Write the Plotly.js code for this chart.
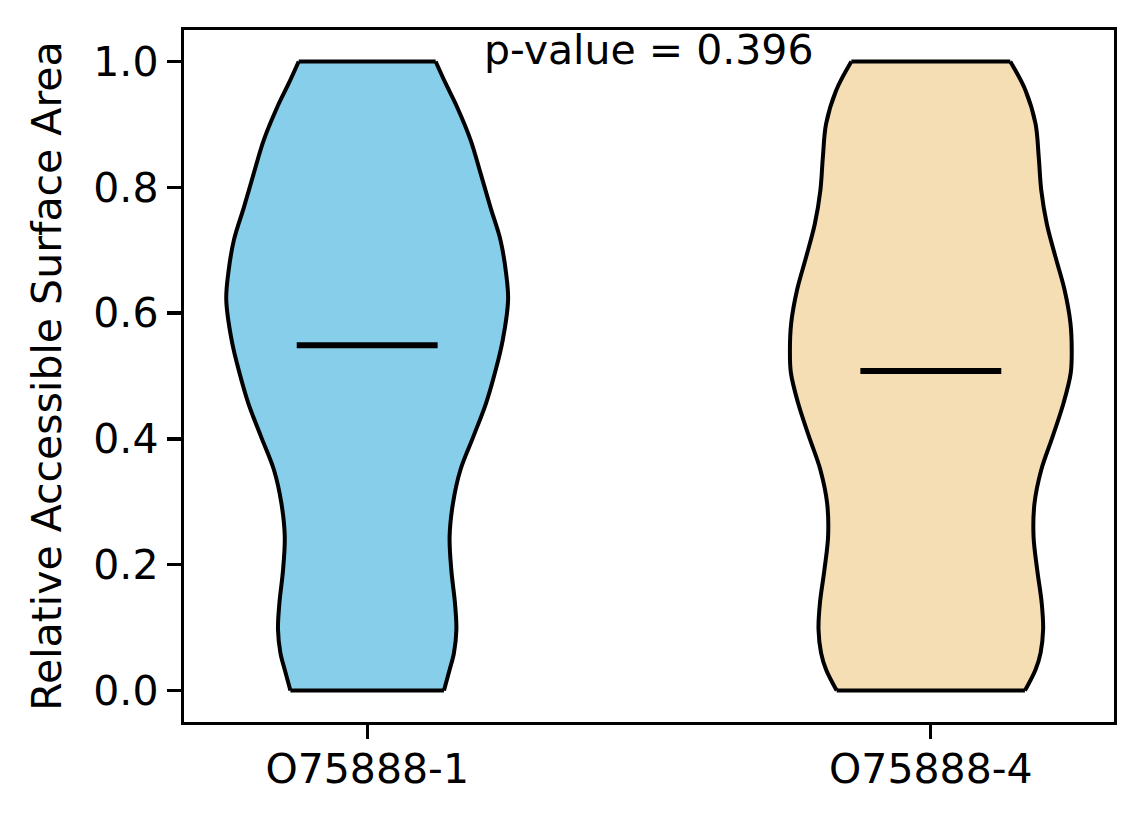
<!DOCTYPE html>
<html>
<head>
<meta charset="utf-8">
<script src="https://cdn.plot.ly/plotly-3.0.1.min.js"></script>
<style>
  html, body { margin: 0; padding: 0; background: #fff; }
  #chart { width: 1144px; height: 824px; }
</style>
</head>
<body>
<div id="chart"></div>
<script>
// groups on the x axis
const groups = ['O75888-1', 'O75888-4'];
const positions = [1, 2];
const fills = ['#87CEEB', '#F5DEB3'];

// density profile (relative width, 1 = widest)
const blueLevels = [0.0, 0.033, 0.06, 0.097, 0.139, 0.192, 0.245, 0.298, 0.351, 0.404, 0.457,
                    0.507, 0.557, 0.621, 0.663, 0.716, 0.768, 0.822, 0.875, 0.928, 0.965, 1.0];
const blueDensity = [0.545, 0.585, 0.616, 0.633, 0.623, 0.597, 0.585, 0.609, 0.662, 0.754, 0.844,
                     0.909, 0.962, 1.0, 0.986, 0.946, 0.875, 0.805, 0.734, 0.637, 0.557, 0.486];

const wheatLevels = [0.0, 0.033, 0.06, 0.097, 0.139, 0.192, 0.245, 0.298, 0.351, 0.404, 0.457,
                     0.505, 0.541, 0.584, 0.637, 0.689, 0.742, 0.795, 0.848, 0.901, 0.954, 1.0];
const wheatDensity = [0.668, 0.743, 0.779, 0.797, 0.787, 0.755, 0.729, 0.736, 0.784, 0.865, 0.942,
                      0.993, 1.0, 0.991, 0.949, 0.885, 0.823, 0.784, 0.766, 0.743, 0.672, 0.564];

const medians = [0.549, 0.508];
const pValue = 0.396;

const halfWidth = 0.25;   // violin width 0.5
const medianHalf = 0.125;

function lineTrace(x, y, width, color, shape) {
    return {
        x: x, y: y, mode: 'lines',
        line: {color: color, width: width, shape: shape || 'linear'},
        hoverinfo: 'skip', showlegend: false
    };
}

function violinTraces(pos, levels, density, color) {
    let n = levels.length - 1;
    let rightX = density.map(d => pos + d * halfWidth);
    let leftX = density.map(d => pos - d * halfWidth);

    // middle block between the flat ends
    let mid = lineTrace([leftX[0], rightX[0], rightX[n], leftX[n]],
                        [levels[0], levels[0], levels[n], levels[n]], 0, color);
    mid.fill = 'toself';
    mid.fillcolor = color;
    // paint over the seams where the pieces meet
    let seams = lineTrace([leftX[0], leftX[n], null, rightX[0], rightX[n]],
                          [levels[0], levels[n], null, levels[0], levels[n]], 4, color);

    // curved sides, filled to their own chord
    let leftFill = lineTrace(leftX, levels, 0, color, 'spline');
    leftFill.fill = 'toself';
    leftFill.fillcolor = color;
    let rightFill = lineTrace(rightX, levels, 0, color, 'spline');
    rightFill.fill = 'toself';
    rightFill.fillcolor = color;

    // black outline
    let leftEdge = lineTrace(leftX, levels, 4, 'black', 'spline');
    let rightEdge = lineTrace(rightX, levels, 4, 'black', 'spline');
    let ends = lineTrace([leftX[0], rightX[0], null, leftX[n], rightX[n]],
                         [levels[0], levels[0], null, levels[n], levels[n]], 4, 'black');

    return [mid, seams, leftFill, rightFill, leftEdge, rightEdge, ends];
}

let data = [];
data = data.concat(violinTraces(positions[0], blueLevels, blueDensity, fills[0]));
data = data.concat(violinTraces(positions[1], wheatLevels, wheatDensity, fills[1]));

for (let i = 0; i < positions.length; i++) {
    data.push(lineTrace([positions[i] - medianHalf, positions[i] + medianHalf],
                        [medians[i], medians[i]], 6, 'black'));
}

const font = {family: 'DejaVu Sans', size: 41, color: 'black'};

let layout = {
    width: 1144,
    height: 824,
    margin: {l: 184, r: 30, t: 30, b: 102},
    paper_bgcolor: 'white',
    plot_bgcolor: 'white',
    font: font,
    showlegend: false,
    xaxis: {
        range: [0.675, 2.325],
        tickvals: positions,
        ticktext: groups,
        ticks: 'outside',
        ticklen: 14,
        tickwidth: 3.3,
        tickcolor: 'black',
        ticklabelstandoff: -6,
        showline: true,
        linecolor: 'black',
        linewidth: 3.3,
        mirror: true,
        showgrid: false,
        zeroline: false,
        tickfont: font
    },
    yaxis: {
        range: [-0.05, 1.05],
        tickvals: [0, 0.2, 0.4, 0.6, 0.8, 1.0],
        tickformat: '.1f',
        ticks: 'outside',
        ticklen: 14,
        tickwidth: 3.3,
        tickcolor: 'black',
        showline: true,
        linecolor: 'black',
        linewidth: 3.3,
        mirror: true,
        showgrid: false,
        zeroline: false,
        tickfont: font,
        title: {text: 'Relative Accessible Surface Area', font: font, standoff: 20}
    },
    annotations: [{
        x: 1.5,
        y: 1.018,
        xref: 'x',
        yref: 'y',
        text: 'p-value = ' + pValue.toFixed(3),
        showarrow: false,
        xanchor: 'center',
        yanchor: 'middle',
        font: font
    }]
};

Plotly.newPlot('chart', data, layout, {staticPlot: true});
</script>
</body>
</html>
